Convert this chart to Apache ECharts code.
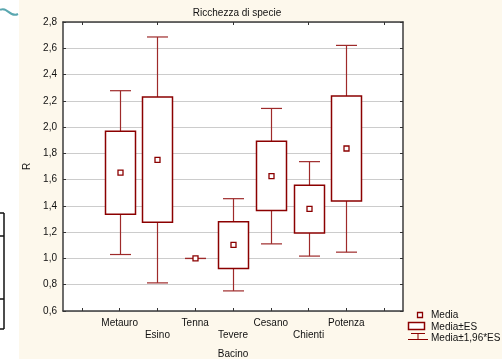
<!DOCTYPE html>
<html>
<head>
<meta charset="utf-8">
<script src="https://cdn.jsdelivr.net/npm/echarts@6/dist/echarts.min.js"></script>
<style>
html,body{margin:0;padding:0;background:#fff;}
#c{width:502px;height:359px;}
</style>
</head>
<body>
<div id="c"></div>
<script>
// Data
var categories = ['', 'Metauro', 'Esino', 'Tenna', 'Tevere', 'Cesano', 'Chienti', 'Potenza', ''];
var groups = ['Metauro', 'Esino', 'Tenna', 'Tevere', 'Cesano', 'Chienti', 'Potenza'];
var media     = [1.653, 1.750, 1.000, 1.104, 1.627, 1.378, 1.837];
var boxLow    = [1.336, 1.275, 1.000, 0.924, 1.366, 1.193, 1.437];
var boxHigh   = [1.969, 2.229, 1.000, 1.279, 1.893, 1.557, 2.237];
var whiskLow  = [1.030, 0.814, 1.000, 0.753, 1.111, 1.018, 1.048];
var whiskHigh = [2.277, 2.686, 1.000, 1.455, 2.142, 1.737, 2.622];
var yTicks = [0.6, 0.8, 1.0, 1.2, 1.4, 1.6, 1.8, 2.0, 2.2, 2.4, 2.6, 2.8];

var RED = '#8b0000';
var WHISK = '#9e2a2a';
var FONT = 'Liberation Sans';

var seriesData = groups.map(function (g, i) {
  return [categories.indexOf(g), media[i], boxLow[i], boxHigh[i], whiskLow[i], whiskHigh[i]];
});

function renderItem(params, api) {
  var x = api.value(0);
  var pM = api.coord([x, api.value(1)]);
  var pBL = api.coord([x, api.value(2)]);
  var pBH = api.coord([x, api.value(3)]);
  var pWL = api.coord([x, api.value(4)]);
  var pWH = api.coord([x, api.value(5)]);
  var cx = Math.round(pM[0]) + 0.5;
  var bw = 30, cw = 21, ms = 5;
  var children = [];
  var ls = {stroke: WHISK, lineWidth: 1.2, fill: null};
  children.push({type: 'line', shape: {x1: cx, y1: pWH[1], x2: cx, y2: pBH[1]}, style: ls});
  children.push({type: 'line', shape: {x1: cx, y1: pBL[1], x2: cx, y2: pWL[1]}, style: ls});
  children.push({type: 'line', shape: {x1: cx - cw / 2, y1: pWH[1], x2: cx + cw / 2, y2: pWH[1]}, style: ls});
  children.push({type: 'line', shape: {x1: cx - cw / 2, y1: pWL[1], x2: cx + cw / 2, y2: pWL[1]}, style: ls});
  var h = pBL[1] - pBH[1];
  if (h > 0.5) {
    children.push({type: 'rect', shape: {x: cx - bw / 2, y: pBH[1], width: bw, height: h},
      style: {stroke: RED, lineWidth: 1.5, fill: '#fff'}});
  }
  children.push({type: 'rect', shape: {x: cx - ms / 2, y: pM[1] - ms / 2, width: ms, height: ms},
    style: {stroke: RED, lineWidth: 1.3, fill: '#fff'}});
  return {type: 'group', children: children};
}

var chart = echarts.init(document.getElementById('c'), null, {renderer: 'canvas'});
var axisLineStyle = {color: '#3c3c3c', width: 1.5};
var option = {
  animation: false,
  backgroundColor: '#fdf8ec',
  textStyle: {fontFamily: FONT},
  title: {
    text: 'Ricchezza di specie', left: 232, top: 3, textAlign: 'center',
    textStyle: {fontFamily: FONT, fontSize: 10, fontWeight: 'normal', color: '#111'}
  },
  grid: {left: 63, top: 22, right: 99, bottom: 48, show: true, backgroundColor: '#ffffff', borderWidth: 0,
    containLabel: false, outerBoundsMode: 'none'},
  xAxis: [{
    type: 'category', data: categories, position: 'bottom', boundaryGap: true,
    name: 'Bacino', nameLocation: 'middle', nameGap: 38,
    nameTextStyle: {fontFamily: FONT, fontSize: 10, color: '#111'},
    axisLine: {show: true, lineStyle: axisLineStyle},
    axisTick: {show: true, inside: true, alignWithLabel: true, length: 3, lineStyle: {color: '#333'}},
    axisLabel: {interval: 0, fontFamily: FONT, fontSize: 10, color: '#111', margin: 6, lineHeight: 12,
      formatter: function (v, i) { return (i % 2 === 0) ? '\n' + v : v; }},
    splitLine: {show: false}
  }, {
    type: 'category', data: categories, position: 'top', boundaryGap: true,
    axisLine: {show: true, lineStyle: axisLineStyle},
    axisTick: {show: true, inside: true, alignWithLabel: true, length: 3, lineStyle: {color: '#333'}},
    axisLabel: {show: false}, splitLine: {show: false}
  }],
  yAxis: [{
    type: 'value', min: yTicks[0], max: yTicks[yTicks.length - 1], interval: 0.2, position: 'left',
    name: 'R', nameLocation: 'middle', nameGap: 25, nameRotate: 90,
    nameTextStyle: {fontFamily: FONT, fontSize: 10, color: '#111'},
    axisLine: {show: true, lineStyle: axisLineStyle},
    axisTick: {show: true, inside: true, length: 3, lineStyle: {color: '#333'}},
    axisLabel: {fontFamily: FONT, fontSize: 10, color: '#111', margin: 6,
      formatter: function (v) { return v.toFixed(1).replace('.', ','); }},
    splitLine: {show: true, lineStyle: {color: '#cccccc', width: 1}}
  }, {
    type: 'value', min: yTicks[0], max: yTicks[yTicks.length - 1], interval: 0.2, position: 'right',
    axisLine: {show: true, lineStyle: axisLineStyle},
    axisTick: {show: true, inside: true, length: 3, lineStyle: {color: '#333'}},
    axisLabel: {show: false}, splitLine: {show: false}
  }],
  series: [{
    type: 'custom', renderItem: renderItem, data: seriesData,
    xAxisIndex: 0, yAxisIndex: 0, clip: false,
    encode: {x: 0, y: [1, 2, 3, 4, 5]}
  }],
  graphic: [
    {type: 'rect', left: 0, top: 0, shape: {width: 19, height: 359}, style: {fill: '#ffffff'}, z: 10},
    {type: 'polyline', shape: {points: [[4, 213], [4, 329]]}, style: {stroke: '#111', lineWidth: 1.5}, z: 11},
    {type: 'polyline', shape: {points: [[0, 213], [4, 213]]}, style: {stroke: '#111', lineWidth: 1.5}, z: 11},
    {type: 'polyline', shape: {points: [[0, 236], [4, 236]]}, style: {stroke: '#111', lineWidth: 1.5}, z: 11},
    {type: 'polyline', shape: {points: [[0, 299], [4, 299]]}, style: {stroke: '#111', lineWidth: 1.5}, z: 11},
    {type: 'polyline', shape: {points: [[0, 329], [4, 329]]}, style: {stroke: '#111', lineWidth: 1.5}, z: 11},
    {type: 'bezierCurve', shape: {x1: 0, y1: 10, x2: 18, y2: 14, cpx1: 7, cpy1: 6, cpx2: 10, cpy2: 18},
      style: {stroke: '#5aa7b0', lineWidth: 2, fill: null}, z: 11},
    {type: 'rect', shape: {x: 417.5, y: 312.5, width: 5, height: 5}, style: {stroke: RED, lineWidth: 1.3, fill: '#fff'}, z: 11},
    {type: 'text', style: {x: 431, y: 315, text: 'Media', font: '10px "Liberation Sans"', fill: '#111', textVerticalAlign: 'middle'}, z: 11},
    {type: 'rect', shape: {x: 408.5, y: 322.5, width: 16, height: 7}, style: {stroke: RED, lineWidth: 1.5, fill: '#fff'}, z: 11},
    {type: 'text', style: {x: 431, y: 327, text: 'Media±ES', font: '10px "Liberation Sans"', fill: '#111', textVerticalAlign: 'middle'}, z: 11},
    {type: 'polyline', shape: {points: [[411, 333.5], [425, 333.5]]}, style: {stroke: RED, lineWidth: 1}, z: 11},
    {type: 'polyline', shape: {points: [[418, 333.5], [418, 339.5]]}, style: {stroke: RED, lineWidth: 1}, z: 11},
    {type: 'polyline', shape: {points: [[408, 339.5], [428, 339.5]]}, style: {stroke: RED, lineWidth: 1}, z: 11},
    {type: 'text', style: {x: 431, y: 338, text: 'Media±1,96*ES', font: '10px "Liberation Sans"', fill: '#111', textVerticalAlign: 'middle'}, z: 11}
  ]
};
chart.setOption(option);
</script>
</body>
</html>
